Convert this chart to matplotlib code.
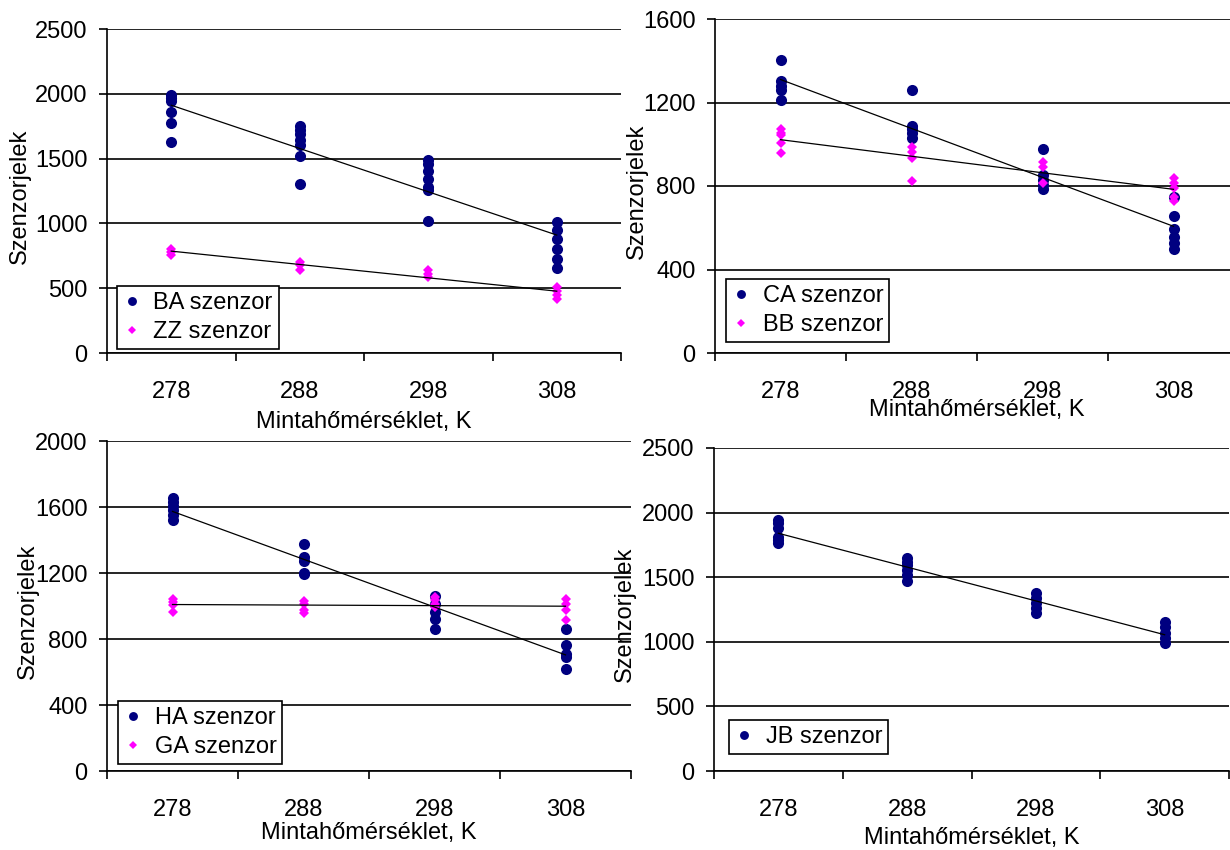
# Se importan las librerias para la grafica.
import numpy as np
import matplotlib
matplotlib.use('Agg')
from matplotlib import pyplot as plt

plt.rcParams['font.family'] = ['Liberation Sans', 'DejaVu Sans']

# Categorias del eje x (temperatura de la muestra, K).
temps = ['278', '288', '298', '308']

# Señales de los sensores, una lista por temperatura.
ba = [[1988, 1965, 1944, 1861, 1771, 1629],
      [1755, 1724, 1686, 1647, 1606, 1523, 1303],
      [1487, 1461, 1401, 1342, 1280, 1259, 1021],
      [1013, 949, 876, 806, 729, 659]]
zz = [[806, 781, 755],
      [703, 677, 644],
      [639, 613, 587],
      [509, 478, 445, 419]]
ca = [[1402, 1301, 1280, 1261, 1210],
      [1261, 1088, 1072, 1053, 1029],
      [978, 853, 829, 805, 784],
      [749, 656, 592, 554, 525, 496]]
bb = [[1072, 1056, 1045, 1005, 960],
      [989, 965, 933, 824],
      [917, 893, 813],
      [837, 813, 789, 749, 730]]
ha = [[1652, 1632, 1606, 1581, 1551, 1521],
      [1373, 1294, 1274, 1201, 1191],
      [1062, 1015, 965, 924, 859],
      [859, 762, 708, 692, 621]]
ga = [[1045, 1025, 1005, 961],
      [1031, 1015, 975, 955],
      [1056, 1035, 1015, 995],
      [1045, 1015, 975, 914]]
jb = [[1944, 1918, 1880, 1815, 1789, 1763],
      [1647, 1621, 1595, 1556, 1518, 1474],
      [1375, 1337, 1298, 1259, 1225],
      [1156, 1117, 1065, 1026, 988]]

NAVY = '#000080'
MAGENTA = '#FF00FF'


# Funcion para dibujar una serie con su linea de tendencia.
def draw_series(ax, data, label, marker, color, ms):
    xs, ys = [], []
    for i, vals in enumerate(data):
        xs += [i] * len(vals)
        ys += vals
    ax.plot(xs, ys, linestyle='none', marker=marker, color=color,
            markersize=ms, markeredgewidth=0, label=label, zorder=3)
    k, b = np.polyfit(xs, ys, 1)
    ax.plot([0, len(data) - 1], [b, k * (len(data) - 1) + b],
            color='black', lw=0.9, zorder=4)


# Funcion para dar formato a cada panel.
def format_panel(ax, ymax, ystep, leg_pos, xlab_y, ylab_x):
    ax.set_xlim(-0.5, len(temps) - 0.5)
    ax.set_ylim(0, ymax)
    ax.set_yticks(np.arange(0, ymax + 1, ystep))
    ax.grid(axis='y', color='black', lw=1.2)
    ax.set_axisbelow(True)
    for s in ['top', 'right']:
        ax.spines[s].set_visible(False)
    for s in ['left', 'bottom']:
        ax.spines[s].set_linewidth(1.2)

    # Marcas en los limites de las categorias, etiquetas en el centro.
    ax.set_xticks(np.arange(-0.5, len(temps), 1.0))
    ax.set_xticklabels([])
    ax.set_xticks(range(len(temps)), minor=True)
    ax.set_xticklabels(temps, minor=True)
    ax.tick_params(axis='x', which='major', length=6, width=1.2)
    ax.tick_params(axis='x', which='minor', length=0, pad=20, labelsize=17)
    ax.tick_params(axis='y', length=6, width=1.2, pad=8, labelsize=17)

    ax.set_xlabel('Mintahőmérséklet, K', fontsize=17, va='center')
    ax.xaxis.set_label_coords(0.5, xlab_y)
    ax.set_ylabel('Szenzorjelek', fontsize=17, va='center')
    ax.yaxis.set_label_coords(ylab_x, 0.485)

    leg = ax.legend(loc='lower left', bbox_to_anchor=leg_pos, fontsize=17,
                    frameon=True, fancybox=False, framealpha=1,
                    edgecolor='black', borderpad=0.25, labelspacing=0.3,
                    handlelength=0.8, handletextpad=0.5, borderaxespad=0,
                    markerscale=0.8)
    leg.get_frame().set_linewidth(1.2)
    leg.set_zorder(5)


def main():
    fig = plt.figure(figsize=(12.3, 8.5), dpi=100)
    W, H = 1230.0, 850.0

    # Posiciones de los paneles en pixeles (izq, arriba, der, abajo).
    boxes = [(107, 29, 621, 353), (715, 19, 1239, 353),
             (107, 441, 631, 771), (714, 448, 1229, 771)]
    axes = []
    for l, t, r, b in boxes:
        axes.append(fig.add_axes([l / W, (H - b) / H, (r - l) / W, (b - t) / H]))
    ax1, ax2, ax3, ax4 = axes

    # Panel superior izquierdo.
    draw_series(ax1, ba, 'BA szenzor', 'o', NAVY, 8)
    draw_series(ax1, zz, 'ZZ szenzor', 'D', MAGENTA, 5.5)
    format_panel(ax1, 2500, 500, (0.019, 0.012), -0.213, -0.169)

    # Panel superior derecho.
    draw_series(ax2, ca, 'CA szenzor', 'o', NAVY, 8)
    draw_series(ax2, bb, 'BB szenzor', 'D', MAGENTA, 5.5)
    format_panel(ax2, 1600, 400, (0.021, 0.033), -0.171, -0.149)

    # Panel inferior izquierdo.
    draw_series(ax3, ha, 'HA szenzor', 'o', NAVY, 8)
    draw_series(ax3, ga, 'GA szenzor', 'D', MAGENTA, 5.5)
    format_panel(ax3, 2000, 400, (0.021, 0.021), -0.188, -0.151)

    # Panel inferior derecho.
    draw_series(ax4, jb, 'JB szenzor', 'o', NAVY, 8)
    format_panel(ax4, 2500, 500, (0.029, 0.053), -0.207, -0.173)

    fig.savefig('out.png', dpi=100)


if __name__ == '__main__':
    main()
